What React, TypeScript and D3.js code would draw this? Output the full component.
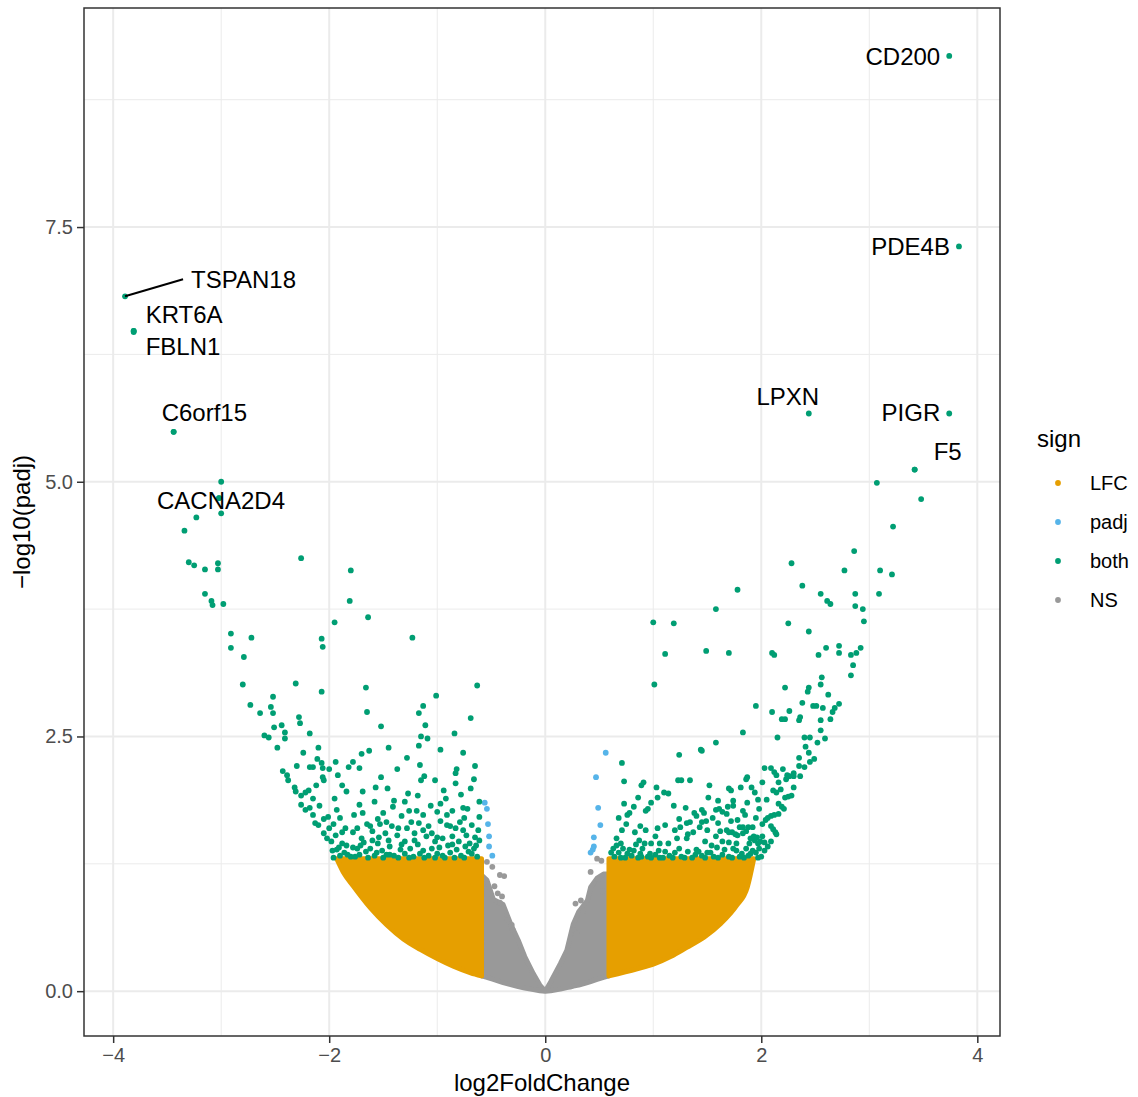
// @ts-nocheck
import React, { useEffect, useRef } from "react";
import * as d3 from "d3";

// axis ticks
const xTicks = [-4, -2, 0, 2, 4];
const xMinor = [-3, -1, 1, 3];
const yTicks = [0, 2.5, 5, 7.5];
const yMinor = [1.25, 3.75, 6.25, 8.75];

// legend
const signLevels = ["LFC", "padj", "both", "NS"];
const signColors = { LFC: "#E69F00", padj: "#56B4E9", both: "#009E73", NS: "#999999" };

// labelled genes [log2FoldChange, -log10(padj)]
const genes = [
  { gene: "CD200", lfc: 3.74, p: 9.18 },
  { gene: "PDE4B", lfc: 3.83, p: 7.31 },
  { gene: "TSPAN18", lfc: -3.89, p: 6.82 },
  { gene: "KRT6A", lfc: -3.81, p: 6.48 },
  { gene: "FBLN1", lfc: -3.81, p: 6.47 },
  { gene: "C6orf15", lfc: -3.44, p: 5.49 },
  { gene: "CACNA2D4", lfc: -3.02, p: 4.84 },
  { gene: "LPXN", lfc: 2.44, p: 5.67 },
  { gene: "PIGR", lfc: 3.74, p: 5.67 },
  { gene: "F5", lfc: 3.42, p: 5.12 },
];

// where ggrepel put the labels, offset from the point in px
const labelNudge = {
  CD200: { dx: -9, dy: 0, anchor: "end" },
  PDE4B: { dx: -9, dy: 0, anchor: "end" },
  TSPAN18: { dx: 66, dy: -17, anchor: "start", segment: true },
  KRT6A: { dx: 12, dy: -17, anchor: "start" },
  FBLN1: { dx: 12, dy: 14, anchor: "start" },
  C6orf15: { dx: -12, dy: -19, anchor: "start" },
  CACNA2D4: { dx: 2, dy: 2, anchor: "middle" },
  LPXN: { dx: -21, dy: -17, anchor: "middle" },
  PIGR: { dx: -9, dy: -1, anchor: "end" },
  F5: { dx: 19, dy: -18, anchor: "start" },
};

// significant in both (green)
const bothPoints = [
  [-3.81, 6.48], [-3.44, 5.49], [-3.0, 5.0], [-3.0, 4.69], [-3.23, 4.65], [-3.02, 4.84], [-3.34, 4.52],
  [-3.3, 4.21], [-3.25, 4.18], [-3.15, 4.14], [-3.03, 4.2], [-3.03, 4.14], [-3.15, 3.9], [-3.09, 3.83],
  [-3.08, 3.79], [-2.98, 3.8], [-2.26, 4.25], [-1.8, 4.13], [-1.81, 3.83], [-1.64, 3.67], [-1.95, 3.62],
  [-2.91, 3.51], [-2.91, 3.37], [-2.72, 3.47], [-2.79, 3.28], [-2.07, 3.46], [-2.06, 3.38], [-1.23, 3.47],
  [-2.8, 3.01], [-2.31, 3.02], [-2.07, 2.94], [-1.66, 2.98], [-1.65, 2.74], [-1.52, 2.6], [-0.63, 3.0],
  [-1.01, 2.9], [-0.69, 2.68], [-1.13, 2.8], [-1.17, 2.73], [-1.11, 2.61], [-0.84, 2.53], [-1.15, 2.5],
  [-1.09, 2.48], [-1.17, 2.41], [-0.97, 2.37], [-0.76, 2.34], [-0.65, 2.21], [-2.73, 2.81], [-2.64, 2.73],
  [-2.52, 2.89], [-2.54, 2.79], [-2.52, 2.73], [-2.44, 2.61], [-2.51, 2.59], [-2.41, 2.54], [-2.41, 2.48],
  [-2.6, 2.51], [-2.56, 2.49], [-2.48, 2.39], [-2.28, 2.69], [-2.27, 2.63], [-2.18, 2.53], [-2.24, 2.34],
  [-2.1, 2.39], [-2.11, 2.28], [-2.3, 2.21], [-2.43, 2.16], [-2.39, 2.12], [-2.38, 2.07], [-2.18, 2.2],
  [-2.15, 2.2], [-2.07, 2.24], [-2.06, 2.19], [-2.0, 2.18], [-1.94, 2.25], [-1.92, 2.12], [-2.06, 2.1],
  [-2.05, 2.07], [-2.12, 2.02], [-1.82, 2.2], [-1.78, 2.25], [-1.72, 2.19], [-1.7, 2.33], [-1.63, 2.36],
  [-1.45, 2.39], [-1.37, 2.18], [-1.28, 2.29], [-1.16, 2.22], [-1.12, 2.11], [-1.15, 2.07], [-1.02, 2.07],
  [-0.82, 2.18], [-0.83, 2.14], [-2.32, 2.0], [-2.31, 1.96], [-2.26, 1.92], [-2.22, 1.95], [-2.19, 1.97],
  [-2.26, 1.83], [-2.22, 1.78], [-2.18, 1.8], [-2.15, 1.89], [-2.09, 1.82], [-2.15, 1.73], [-2.13, 1.65],
  [-2.1, 1.63], [-2.05, 1.69], [-2.01, 1.71], [-1.96, 1.64], [-2.05, 1.55], [-2.02, 1.5], [-1.98, 1.47],
  [-1.94, 1.53], [-1.97, 1.38], [-1.93, 1.39], [-1.84, 1.43], [-1.78, 1.41], [-1.78, 1.56], [-1.7, 1.5],
  [-1.65, 1.64], [-1.69, 1.75], [-1.77, 1.73], [-1.95, 1.89], [-1.84, 1.96], [-1.69, 1.96], [-1.57, 2.0],
  [-1.46, 1.99], [-1.4, 1.87], [-1.41, 1.81], [-1.5, 1.75], [-1.53, 1.64], [-1.54, 1.51], [-1.51, 1.38],
  [-1.44, 1.42], [-1.37, 1.53], [-1.33, 1.72], [-1.27, 1.94], [-1.26, 1.77], [-1.28, 1.6], [-1.19, 1.77],
  [-1.13, 1.73], [-1.17, 1.65], [-1.21, 1.55], [-1.1, 1.52], [-1.25, 1.4], [-1.13, 1.38], [-1.02, 1.47],
  [-1.0, 1.51], [-1.06, 1.82], [-1.0, 1.76], [-0.97, 1.84], [-0.94, 1.97], [-0.92, 1.89], [-0.83, 2.04],
  [-0.69, 1.99], [-0.76, 1.8], [-0.72, 1.79], [-0.61, 1.86], [-0.61, 1.71], [-0.83, 1.6], [-0.76, 1.58],
  [-0.73, 1.53], [-0.65, 1.51], [-0.61, 1.48], [-0.91, 1.73], [-0.91, 1.63], [-0.9, 1.43], [-0.82, 1.39],
  [-0.74, 1.42], [-0.68, 1.35], [-0.63, 1.32], [-1.62, 1.4], [-1.93, 1.78], [-1.34, 1.39], [-1.0, 1.35],
  [-1.74, 1.4], [-1.9, 1.33], [-1.86, 1.36], [-1.8, 1.32], [-1.72, 1.34], [-1.66, 1.37], [-1.58, 1.33],
  [-1.55, 1.45], [-1.47, 1.34], [-1.4, 1.33], [-1.3, 1.35], [-1.22, 1.32], [-1.18, 1.44], [-1.08, 1.33],
  [-1.05, 1.4], [-0.95, 1.33], [-0.88, 1.36], [-0.78, 1.33], [-0.7, 1.45], [-0.66, 1.4], [-1.88, 1.45],
  [-1.68, 1.46], [-1.45, 1.48], [-1.3, 1.47], [-0.95, 1.5], [-0.86, 1.52], [-1.6, 1.57], [-1.85, 1.6],
  [-1.42, 1.62], [-1.08, 1.62], [-0.79, 1.66], [-1.9, 1.7], [-1.55, 1.69], [-0.86, 1.77],
  [-1.96, 1.31], [-1.91, 1.41], [-1.83, 1.34], [-1.76, 1.32], [-1.71, 1.43], [-1.64, 1.31], [-1.6, 1.48],
  [-1.56, 1.36], [-1.5, 1.31], [-1.48, 1.55], [-1.44, 1.34], [-1.36, 1.31], [-1.33, 1.44], [-1.26, 1.31],
  [-1.21, 1.48], [-1.16, 1.35], [-1.12, 1.31], [-1.05, 1.55], [-1.02, 1.31], [-0.98, 1.41], [-0.93, 1.31],
  [-0.86, 1.44], [-0.84, 1.31], [-0.8, 1.47], [-0.75, 1.31], [-0.71, 1.37], [-0.64, 1.43], [-0.62, 1.58],
  [-0.68, 1.63], [-0.75, 1.7], [-0.88, 1.62], [-0.97, 1.67], [-1.13, 1.58], [-1.24, 1.66], [-1.36, 1.6],
  [-1.47, 1.66], [-1.62, 1.62], [-1.74, 1.6], [-1.88, 1.56], [-2.0, 1.6], [-1.72, 1.83], [-1.58, 1.86],
  [-1.3, 1.86], [-1.18, 1.92], [-0.78, 1.93], [-0.66, 2.08], [-1.52, 2.1], [-1.88, 2.02],
  [3.42, 5.12], [3.07, 4.99], [3.48, 4.83], [3.22, 4.56], [2.86, 4.32], [2.28, 4.2], [2.77, 4.13],
  [3.1, 4.13], [3.21, 4.09], [2.38, 3.98], [1.78, 3.94], [2.55, 3.9], [2.61, 3.83], [2.64, 3.8], [2.87, 3.9],
  [3.09, 3.9], [2.87, 3.78], [2.94, 3.75], [2.95, 3.63], [1.58, 3.75], [1.0, 3.62], [1.19, 3.61], [2.25, 3.61],
  [2.44, 3.53], [1.11, 3.31], [1.49, 3.34], [1.7, 3.32], [2.1, 3.32], [2.12, 3.3], [2.53, 3.3], [2.6, 3.37],
  [2.72, 3.39], [2.72, 3.32], [2.83, 3.3], [2.88, 3.32], [2.92, 3.37], [2.85, 3.2], [2.83, 3.1], [1.01, 3.01],
  [2.22, 2.98], [2.56, 3.08], [2.55, 3.01], [2.44, 2.98], [2.43, 2.94], [2.62, 2.91], [2.38, 2.83], [2.48, 2.8],
  [2.51, 2.8], [2.57, 2.78], [2.72, 2.82], [2.68, 2.78], [2.66, 2.74], [2.64, 2.67], [2.55, 2.66], [2.55, 2.56],
  [2.59, 2.48], [2.36, 2.69], [2.35, 2.66], [2.26, 2.75], [2.19, 2.67], [2.22, 2.67], [2.1, 2.74], [1.95, 2.8],
  [1.83, 2.54], [2.15, 2.49], [2.4, 2.49], [2.45, 2.49], [2.41, 2.4], [2.44, 2.34], [2.49, 2.28], [2.52, 2.44],
  [2.35, 2.29], [2.35, 2.21], [1.58, 2.44], [1.44, 2.37], [1.45, 2.36], [1.24, 2.32], [0.71, 2.24], [0.73, 2.06],
  [0.73, 1.84], [0.82, 1.81], [0.89, 2.02], [0.91, 2.05], [1.03, 2.0], [1.04, 1.9], [1.1, 1.95], [1.14, 1.94],
  [1.23, 2.07], [1.26, 2.07], [1.34, 2.07], [1.19, 1.82], [0.93, 1.77], [0.95, 1.79], [0.76, 1.73], [0.78, 1.75],
  [0.71, 1.58], [0.66, 1.5], [0.7, 1.45], [0.72, 1.4], [0.83, 1.56], [0.93, 1.58], [0.92, 1.45], [0.98, 1.45],
  [1.11, 1.63], [1.06, 1.45], [0.76, 1.35], [0.82, 1.38], [0.88, 1.35], [0.97, 1.35], [1.11, 1.37], [0.63, 1.4],
  [1.24, 1.69], [1.31, 1.65], [1.34, 1.66], [1.32, 1.54], [1.31, 1.5], [1.25, 1.61], [1.38, 1.75], [1.4, 1.72],
  [1.45, 1.78], [1.47, 1.75], [1.51, 1.9], [1.52, 2.02], [1.58, 1.78], [1.61, 1.79], [1.64, 1.76], [1.6, 1.87],
  [1.45, 1.66], [1.49, 1.67], [1.43, 1.61], [1.48, 1.47], [1.54, 1.43], [1.59, 1.41], [1.4, 1.39], [1.39, 1.34],
  [1.6, 1.65], [1.68, 1.74], [1.7, 1.99], [1.72, 1.97], [1.74, 1.87], [1.74, 1.82], [1.81, 2.0], [1.86, 2.08],
  [1.87, 2.1], [1.91, 2.0], [1.94, 1.95], [1.87, 1.85], [1.83, 1.77], [1.85, 1.73], [1.69, 1.81], [1.68, 1.58],
  [1.7, 1.56], [1.73, 1.56], [1.76, 1.54], [1.78, 1.53], [1.83, 1.55], [1.86, 1.57], [1.8, 1.61], [1.83, 1.61],
  [1.88, 1.61], [1.92, 1.61], [1.74, 1.4], [1.77, 1.38], [1.82, 1.35], [1.86, 1.4], [1.89, 1.45], [1.94, 1.48],
  [1.97, 1.45], [1.99, 1.47], [2.01, 1.52], [1.93, 1.52], [1.96, 1.51], [1.98, 1.79], [2.01, 1.64], [2.04, 1.68],
  [2.06, 1.7], [2.09, 1.72], [2.12, 1.73], [2.16, 1.74], [2.03, 2.19], [2.09, 2.19], [2.12, 2.15], [2.14, 2.12],
  [2.16, 2.05], [2.01, 2.05], [2.11, 1.97], [2.14, 1.95], [2.16, 1.84], [2.19, 1.81], [2.21, 1.79], [2.22, 1.9],
  [2.25, 1.91], [2.28, 1.92], [2.23, 2.08], [2.26, 2.11], [2.3, 2.11], [2.36, 2.11], [2.24, 2.12], [2.3, 2.14],
  [2.09, 1.62], [2.11, 1.59], [2.13, 1.56], [2.14, 1.54], [2.09, 1.47], [2.06, 1.42], [2.03, 1.38], [1.97, 1.31],
  [2.0, 1.32], [0.64, 1.32], [0.68, 1.36], [0.74, 1.31], [0.8, 1.33], [0.86, 1.31], [0.9, 1.4], [0.95, 1.32],
  [1.02, 1.34], [1.06, 1.31], [1.15, 1.33], [1.2, 1.36], [1.26, 1.32], [1.32, 1.37], [1.45, 1.33], [1.5, 1.36],
  [1.56, 1.32], [1.64, 1.34], [1.7, 1.32], [1.8, 1.32], [1.88, 1.33], [1.92, 1.38], [1.14, 1.45], [1.22, 1.5],
  [1.02, 1.52], [0.87, 1.48], [1.64, 1.47], [1.7, 1.46], [1.9, 1.5],
  [0.61, 1.36], [0.66, 1.43], [0.7, 1.31], [0.78, 1.39], [0.84, 1.44], [0.89, 1.32], [0.98, 1.31], [1.05, 1.38],
  [1.09, 1.31], [1.18, 1.31], [1.24, 1.4], [1.29, 1.31], [1.36, 1.31], [1.42, 1.37], [1.48, 1.31], [1.53, 1.36],
  [1.6, 1.31], [1.66, 1.39], [1.73, 1.31], [1.77, 1.45], [1.84, 1.31], [1.9, 1.35], [1.95, 1.36], [1.98, 1.4],
  [2.03, 1.46], [1.58, 1.52], [1.62, 1.57], [1.5, 1.58], [1.37, 1.56], [1.2, 1.58], [1.04, 1.6], [0.88, 1.62],
  [0.75, 1.64], [0.68, 1.7], [0.86, 1.9], [0.98, 1.85], [1.3, 1.8], [1.55, 1.7], [1.95, 1.7], [1.97, 1.88],
  [2.05, 1.88], [2.18, 1.98], [2.2, 2.18], [2.3, 2.0], [2.4, 2.2], [2.45, 2.25], [1.78, 1.68], [1.72, 1.67],
];

// padj only (blue)
const padjPoints = [
  [-0.56, 1.85], [-0.54, 1.79], [-0.53, 1.64], [-0.52, 1.52], [-0.52, 1.42], [-0.49, 1.33],
  [0.56, 2.34], [0.47, 2.1], [0.49, 1.8], [0.51, 1.63], [0.45, 1.51], [0.45, 1.42], [0.42, 1.36], [0.44, 1.39],
];

// scattered NS points above the grey cloud
const nsPoints = [
  [-0.54, 1.27], [-0.49, 1.22], [-0.42, 1.14], [-0.38, 1.13], [-0.47, 1.03], [-0.44, 0.96], [-0.4, 0.93],
  [-0.42, 0.87], [-0.35, 0.7], [-0.31, 0.65], [-0.3, 0.6],
  [0.48, 1.3], [0.52, 1.28], [0.42, 1.17], [0.49, 1.1], [0.53, 0.98], [0.28, 0.86], [0.33, 0.89],
  [0.35, 0.79], [0.26, 0.6], [0.29, 0.57],
];

// lower edge of the dense LFC-only clouds (their top is the padj cut, 1.3)
const lfcEdgeLeft = [
  [-1.93, 1.3], [-1.87, 1.17], [-1.775, 1.03], [-1.62, 0.82], [-1.466, 0.65], [-1.31, 0.51],
  [-1.157, 0.41], [-1.0, 0.32], [-0.85, 0.245], [-0.69, 0.18], [-0.59, 0.15],
];
const lfcEdgeRight = [
  [0.59, 0.15], [0.85, 0.22], [1.0, 0.265], [1.16, 0.34], [1.31, 0.43], [1.47, 0.53], [1.62, 0.66],
  [1.77, 0.84], [1.87, 1.02], [1.93, 1.3],
];
const padjCut = 1.3;

// dense NS cloud: [log2FoldChange, low, high]
const nsCloud = [
  [-0.59, 0.15, 1.14], [-0.54, 0.135, 1.09], [-0.48, 0.115, 0.9], [-0.39, 0.085, 0.85], [-0.32, 0.065, 0.66],
  [-0.25, 0.045, 0.5], [-0.19, 0.03, 0.34], [-0.11, 0.015, 0.17], [-0.05, 0.005, 0.06], [0, 0, 0],
  [0.05, 0.005, 0.09], [0.14, 0.02, 0.27], [0.2, 0.035, 0.4], [0.23, 0.04, 0.53], [0.26, 0.05, 0.66],
  [0.31, 0.06, 0.78], [0.39, 0.085, 0.89], [0.42, 0.095, 1.02], [0.48, 0.115, 1.11], [0.54, 0.135, 1.15],
  [0.59, 0.15, 1.15],
];

export default function App() {
  const svgRef = useRef(null);

  useEffect(() => {
    const svg = d3.select(svgRef.current);
    svg.selectAll("*").remove();

    const left = 84, right = 1000, top = 8, bottom = 1036;
    const x = d3.scaleLinear().domain([-4.27, 4.21]).range([left, right]);
    const y = d3.scaleLinear().domain([-0.44, 9.65]).range([bottom, top]);

    // grid
    const grid = svg.append("g").attr("stroke", "#EBEBEB");
    grid.selectAll(".xminor").data(xMinor).join("line")
      .attr("x1", d => x(d)).attr("x2", d => x(d)).attr("y1", top).attr("y2", bottom)
      .attr("stroke-width", 1);
    grid.selectAll(".yminor").data(yMinor).join("line")
      .attr("y1", d => y(d)).attr("y2", d => y(d)).attr("x1", left).attr("x2", right)
      .attr("stroke-width", 1);
    grid.selectAll(".xmajor").data(xTicks).join("line")
      .attr("x1", d => x(d)).attr("x2", d => x(d)).attr("y1", top).attr("y2", bottom)
      .attr("stroke-width", 2);
    grid.selectAll(".ymajor").data(yTicks).join("line")
      .attr("y1", d => y(d)).attr("y2", d => y(d)).attr("x1", left).attr("x2", right)
      .attr("stroke-width", 2);

    // dense clouds
    const lfcArea = d3.area().curve(d3.curveMonotoneX)
      .x(d => x(d[0])).y0(d => y(d[1])).y1(y(padjCut));
    const nsArea = d3.area()
      .x(d => x(d[0])).y0(d => y(d[1])).y1(d => y(d[2]));
    const clouds = svg.append("g").attr("stroke-width", 5).attr("stroke-linejoin", "round");
    clouds.append("path").attr("d", nsArea(nsCloud))
      .attr("fill", signColors.NS).attr("stroke", signColors.NS);
    [lfcEdgeLeft, lfcEdgeRight].forEach(edge =>
      clouds.append("path").attr("d", lfcArea(edge))
        .attr("fill", signColors.LFC).attr("stroke", signColors.LFC));

    const dots = (data, color) =>
      svg.append("g").selectAll("circle").data(data).join("circle")
        .attr("cx", d => x(d[0])).attr("cy", d => y(d[1])).attr("r", 2.9)
        .attr("fill", color);

    dots(nsPoints, signColors.NS);
    dots(padjPoints, signColors.padj);
    dots(bothPoints, signColors.both);
    dots(genes.map(g => [g.lfc, g.p]), signColors.both);

    // gene labels
    const lab = svg.append("g").attr("font-size", 24).attr("fill", "#000");
    genes.forEach(g => {
      const n = labelNudge[g.gene];
      const px = x(g.lfc), py = y(g.p);
      if (n.segment) {
        lab.append("line")
          .attr("x1", px).attr("y1", py)
          .attr("x2", px + n.dx - 8).attr("y2", py + n.dy)
          .attr("stroke", "#000").attr("stroke-width", 2);
      }
      lab.append("text")
        .attr("x", px + n.dx).attr("y", py + n.dy).attr("dy", "0.36em")
        .attr("text-anchor", n.anchor)
        .text(g.gene);
    });

    // panel border
    svg.append("rect")
      .attr("x", left).attr("y", top).attr("width", right - left).attr("height", bottom - top)
      .attr("fill", "none").attr("stroke", "#333333").attr("stroke-width", 1.5);

    // axes
    const xAxis = svg.append("g")
      .attr("transform", `translate(0,${bottom})`)
      .call(d3.axisBottom(x).tickValues(xTicks).tickSize(7).tickPadding(5).tickFormat(d3.format("d")));
    const yAxis = svg.append("g")
      .attr("transform", `translate(${left},0)`)
      .call(d3.axisLeft(y).tickValues(yTicks).tickSize(7).tickPadding(4).tickFormat(d3.format(".1f")));
    [xAxis, yAxis].forEach(a => {
      a.select(".domain").remove();
      a.selectAll(".tick line").attr("stroke", "#333333").attr("stroke-width", 1.5);
      a.selectAll(".tick text").attr("fill", "#4D4D4D").attr("font-size", 20)
        .attr("font-family", "Liberation Sans, Arial, sans-serif");
    });

    // axis titles
    svg.append("text")
      .attr("x", (left + right) / 2).attr("y", 1091)
      .attr("text-anchor", "middle").attr("font-size", 24)
      .text("log2FoldChange");
    svg.append("text")
      .attr("transform", `translate(30,${(top + bottom) / 2}) rotate(-90)`)
      .attr("text-anchor", "middle").attr("font-size", 24)
      .text("\u2212log10(padj)");

    // legend
    const legend = svg.append("g");
    legend.append("text").attr("x", 1037).attr("y", 447).attr("font-size", 24).text("sign");
    signLevels.forEach((s, i) => {
      const cy = 483 + i * 39;
      legend.append("circle").attr("cx", 1058).attr("cy", cy).attr("r", 2.9).attr("fill", signColors[s]);
      legend.append("text").attr("x", 1090).attr("y", cy).attr("dy", "0.36em")
        .attr("font-size", 20).text(s);
    });
  }, []);

  return (
    <div style={{ position: "absolute", left: 0, top: 0 }}>
      <svg
        ref={svgRef}
        width={1138}
        height={1097}
        style={{ display: "block", background: "#fff", fontFamily: "Liberation Sans, Arial, sans-serif" }}
      />
    </div>
  );
}
